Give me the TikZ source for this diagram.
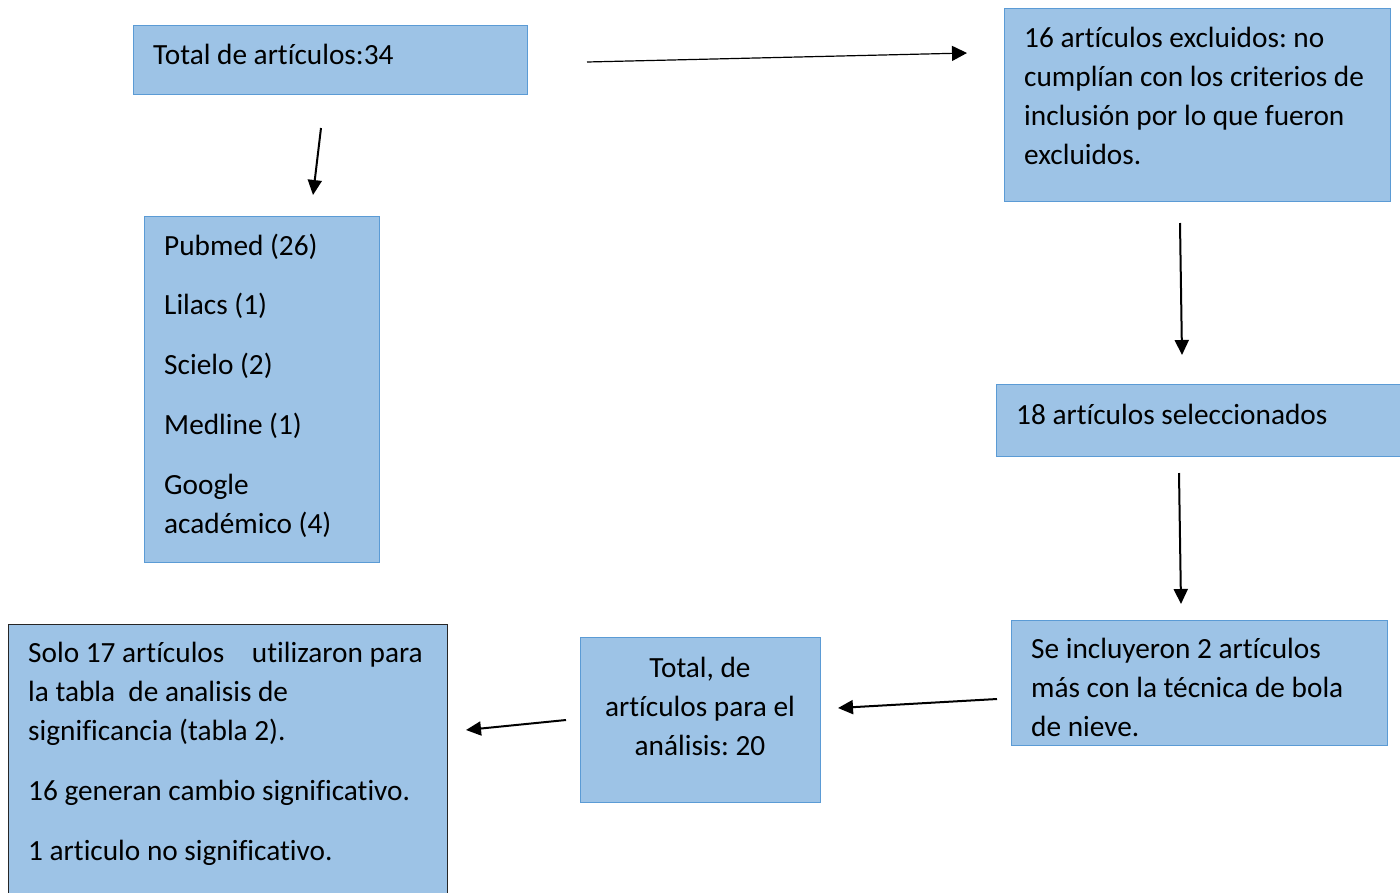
\documentclass[tikz,border=0pt]{standalone}
\usepackage{fontspec}
\setmainfont{Carlito}[Ligatures={NoCommon}]
\usetikzlibrary{arrows.meta}
\frenchspacing
\definecolor{boxfill}{HTML}{9DC3E6}
\definecolor{boxline}{HTML}{5B9BD5}
\tikzset{
  box/.style={draw=boxline, line width=1pt, fill=boxfill, anchor=north west, inner sep=0pt},
  darkbox/.style={draw=black!85, line width=1.4pt, fill=boxfill, anchor=north west, inner sep=0pt},
  txt/.style={anchor=base west, inner sep=0pt, align=left, font=\fontsize{29.3}{38.8}\selectfont},
  ctxt/.style={anchor=base, inner sep=0pt, align=center, font=\fontsize{29.3}{38.8}\selectfont},
  arr/.style={line width=2pt, -{Triangle[length=15pt,width=14pt]}},
  thinarr/.style={line width=1.2pt, -{Triangle[length=15pt,width=15pt]}}
}
\begin{document}
\begin{tikzpicture}[x=1pt,y=-1pt]
\useasboundingbox (0,0) rectangle (1400,892);
% boxes
\node[box, minimum width=394, minimum height=69] (a) at (133,25) {};
\node[box, minimum width=235, minimum height=346] (b) at (144,216) {};
\node[box, minimum width=386, minimum height=193] (c) at (1004,8) {};
\node[box, minimum width=410, minimum height=72] (d) at (996,384) {};
\node[box, minimum width=376, minimum height=125] (e) at (1011,620) {};
\node[box, minimum width=240, minimum height=165] (f) at (580,637) {};
\node[darkbox, minimum width=439, minimum height=280] (g) at (8,624) {};
% texts (base anchor = baseline of last line)
\node[txt] (at) at (153,64) {Total de artículos:34};
\node[txt] (bt) at (164,533) {Pubmed (26)\\[21pt] Lilacs (1)\\[21pt] Scielo (2)\\[21pt] Medline (1)\\[21pt] Google\\ académico (4)};
\node[txt] (ct) at (1024,164) {16 artículos excluidos: no\\ cumplían con los criterios de\\ inclusión por lo que fueron\\ excluidos.};
\node[txt] (dt) at (1016,424) {18 artículos seleccionados};
\node[txt] (et) at (1031,736) {Se incluyeron 2 artículos\\ más con la técnica de bola\\ de nieve.};
\node[ctxt] (ft) at (700,755) {Total, de\\ artículos para el\\ análisis: 20};
\node[txt] (gt) at (28,860) {Solo 17 artículos\hspace{21pt} utilizaron para\\ la tabla\hspace{6.6pt} de analisis de\\ significancia (tabla 2).\\[21pt] 16 generan cambio significativo.\\[21pt] 1 articulo no significativo.};
% arrow end points
\coordinate (a1) at (587,62);  \coordinate (c0) at (967,53);
\coordinate (a2) at (321,128); \coordinate (b0) at (313,195);
\coordinate (c1) at (1180,223); \coordinate (d0) at (1182,355);
\coordinate (d1) at (1179,473); \coordinate (e0) at (1181,604);
\coordinate (e1) at (997,699); \coordinate (f0) at (838,708);
\coordinate (f1) at (566,720); \coordinate (g0) at (466,730);
\draw[thinarr] (a1) -- (c0);
\draw[arr] (a2) -- (b0);
\draw[arr] (c1) -- (d0);
\draw[arr] (d1) -- (e0);
\draw[arr] (e1) -- (f0);
\draw[arr] (f1) -- (g0);
\end{tikzpicture}
\end{document}
